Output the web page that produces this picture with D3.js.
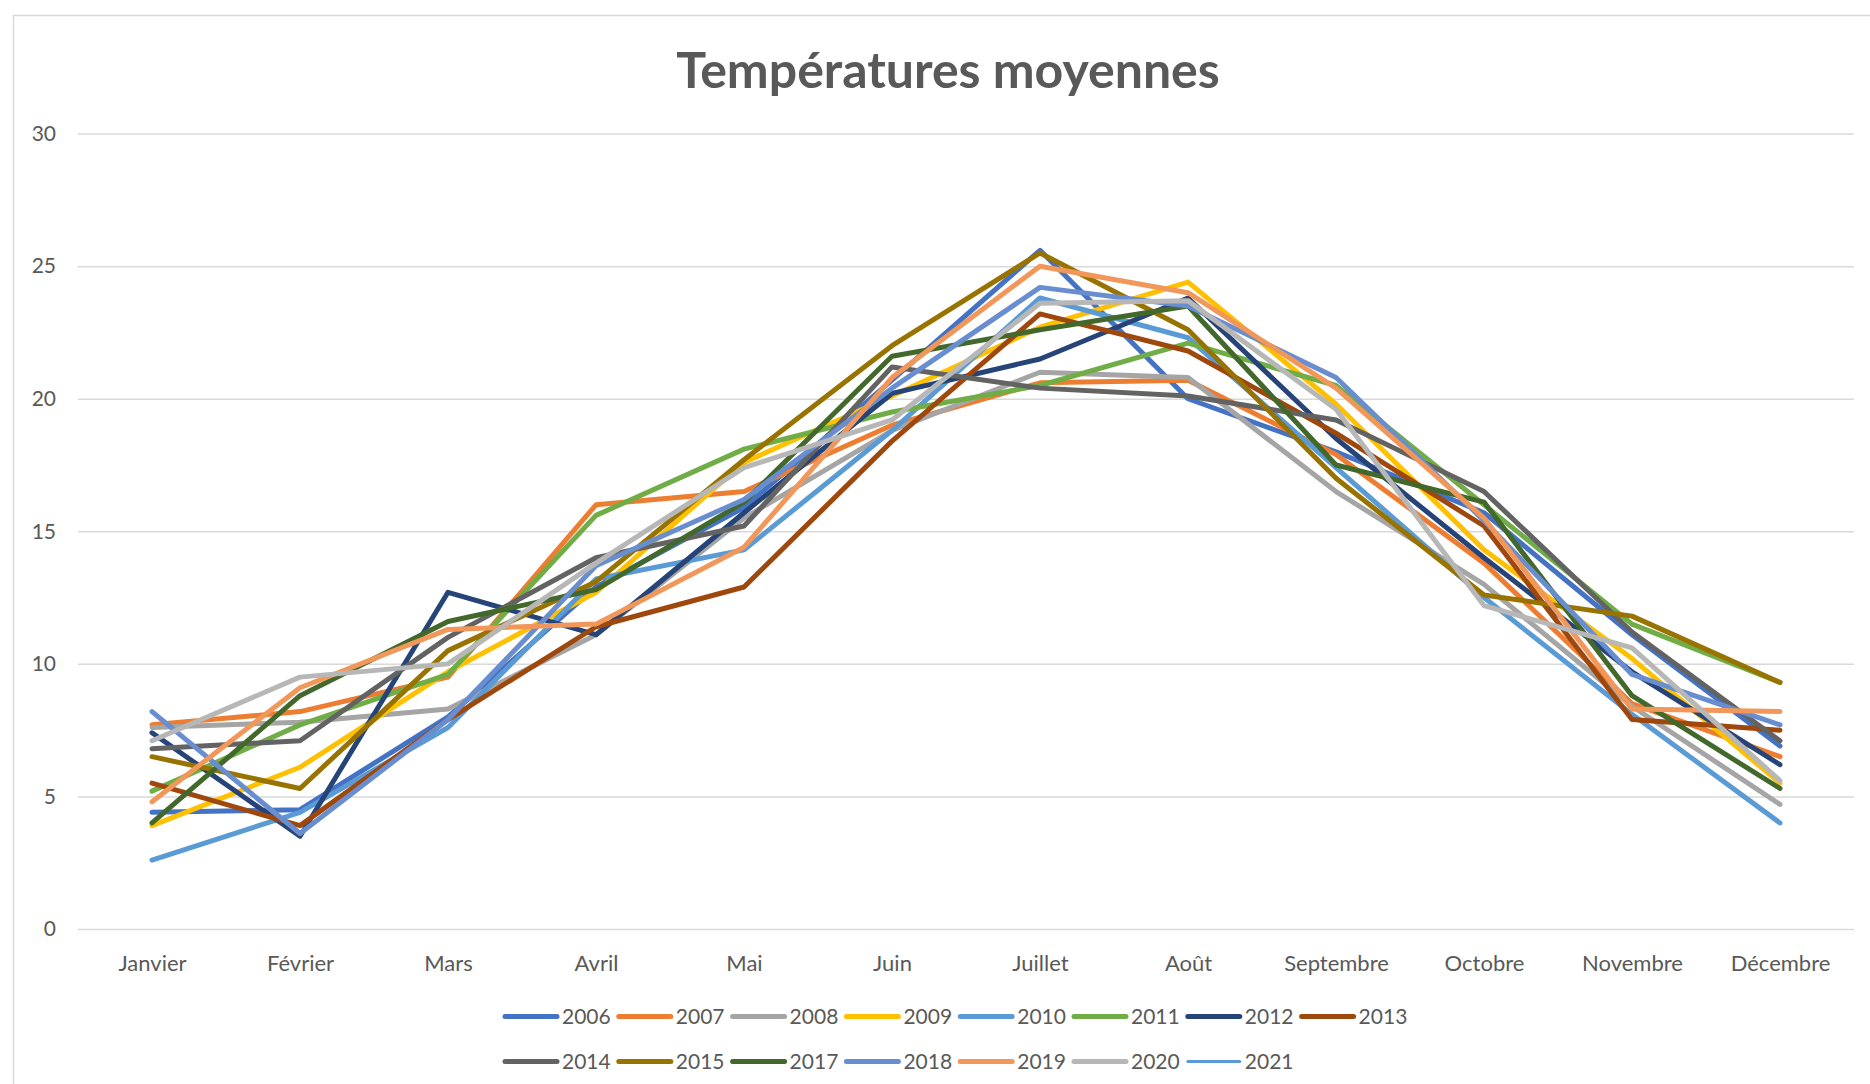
<!DOCTYPE html>
<html>
<head>
<meta charset="utf-8">
<title>Températures moyennes</title>
<script src="https://d3js.org/d3.v7.min.js"></script>
<style>
  body { margin: 0; background: #fff; }
  text { font-family: Lato, "Open Sans", sans-serif; fill: #595959; }
</style>
</head>
<body>
<div id="chart"></div>
<script>
// months and yearly series (°C)
var months = ["Janvier", "Février", "Mars", "Avril", "Mai", "Juin", "Juillet", "Août", "Septembre", "Octobre", "Novembre", "Décembre"];
var yTicks = [0, 5, 10, 15, 20, 25, 30];

var t2006 = [4.4, 4.5, 8.0, 12.9, 15.9, 20.7, 25.6, 20.0, 18.0, 15.7, 11.1, 6.9];
var t2007 = [7.7, 8.2, 9.5, 16.0, 16.5, 19.0, 20.6, 20.7, 17.9, 13.8, 8.5, 6.5];
var t2008 = [7.6, 7.8, 8.3, 11.1, 15.5, 18.8, 21.0, 20.8, 16.5, 13.0, 8.4, 4.7];
var t2009 = [3.9, 6.1, 9.7, 12.7, 17.6, 20.1, 22.7, 24.4, 19.8, 14.3, 10.2, 5.5];
var t2010 = [2.6, 4.4, 7.6, 13.2, 14.3, 18.8, 23.8, 22.3, 17.4, 12.5, 8.1, 4.0];
var t2011 = [5.2, 7.7, 9.6, 15.6, 18.1, 19.5, 20.5, 22.1, 20.5, 16.0, 11.5, 9.3];
var t2012 = [7.4, 3.5, 12.7, 11.1, 15.7, 20.2, 21.5, 23.8, 18.5, 14.0, 9.7, 6.2];
var t2013 = [5.5, 3.9, 7.9, 11.4, 12.9, 18.4, 23.2, 21.8, 18.7, 15.2, 7.9, 7.5];
var t2014 = [6.8, 7.1, 11.0, 14.0, 15.2, 21.2, 20.4, 20.1, 19.2, 16.5, 11.2, 7.1];
var t2015 = [6.5, 5.3, 10.5, 13.1, 17.7, 22.0, 25.5, 22.6, 17.0, 12.6, 11.8, 9.3];
var t2017 = [4.0, 8.8, 11.6, 12.8, 16.1, 21.6, 22.6, 23.5, 17.5, 16.1, 8.8, 5.3];
var t2018 = [8.2, 3.6, 7.9, 13.7, 16.2, 20.4, 24.2, 23.5, 20.8, 15.4, 9.6, 7.7];
var t2019 = [4.8, 9.1, 11.3, 11.5, 14.4, 20.8, 25.0, 24.0, 20.4, 15.5, 8.3, 8.2];
var t2020 = [7.1, 9.5, 10.0, 13.8, 17.4, 19.2, 23.6, 23.7, 19.6, 12.2, 10.6, 5.6];
var t2021 = [];

var years = ["2006", "2007", "2008", "2009", "2010", "2011", "2012", "2013", "2014", "2015", "2017", "2018", "2019", "2020", "2021"];
var colors = ["#4472C4", "#ED7D31", "#A5A5A5", "#FFC000", "#5B9BD5", "#70AD47", "#264478", "#9E480E", "#636363", "#997300", "#43682B", "#698ED0", "#F1975A", "#B7B7B7", "#5B9BD5"];
var widths = [5, 5, 5, 5, 5, 5, 5, 5, 5, 5, 5, 5, 5, 5, 3];
var values = [t2006, t2007, t2008, t2009, t2010, t2011, t2012, t2013, t2014, t2015, t2017, t2018, t2019, t2020, t2021];

var series = years.map(function(y, i) {
  return { name: y, color: colors[i], width: widths[i], values: values[i] };
});

var W = 1870, H = 1084;
var plot = { left: 78, right: 1854, top: 133.6, bottom: 929 };

var svg = d3.select("#chart").append("svg")
  .attr("width", W)
  .attr("height", H);

// chart frame
svg.append("rect")
  .attr("x", 13.5).attr("y", 15.5)
  .attr("width", W).attr("height", H)
  .attr("fill", "none")
  .attr("stroke", "#d9d9d9")
  .attr("stroke-width", 1.5);

svg.append("text")
  .attr("x", 948).attr("y", 88)
  .attr("text-anchor", "middle")
  .attr("font-size", "50px")
  .attr("font-weight", "bold")
  .text("Températures moyennes");

var x = d3.scalePoint()
  .domain(months)
  .range([plot.left, plot.right])
  .padding(0.5);

var y = d3.scaleLinear()
  .domain([0, 30])
  .range([plot.bottom, plot.top]);

// gridlines + y labels
var yAxis = svg.append("g")
  .attr("transform", "translate(" + plot.left + ",0)")
  .call(d3.axisLeft(y).tickValues(yTicks).tickSize(-(plot.right - plot.left)).tickPadding(22));
yAxis.select(".domain").remove();
yAxis.selectAll(".tick line").attr("stroke", "#d9d9d9").attr("stroke-width", 1.5);
yAxis.selectAll(".tick text")
  .attr("font-size", "21px")
  .attr("font-family", "Lato, 'Open Sans', sans-serif")
  .attr("fill", "#595959");

// x labels
var xAxis = svg.append("g")
  .attr("transform", "translate(0," + plot.bottom + ")")
  .call(d3.axisBottom(x).tickSize(0).tickPadding(26));
xAxis.select(".domain").remove();
xAxis.selectAll(".tick text")
  .attr("font-size", "22px")
  .attr("font-family", "Lato, 'Open Sans', sans-serif")
  .attr("fill", "#595959");

var line = d3.line()
  .defined(function(d) { return d != null; })
  .x(function(d, i) { return x(months[i]); })
  .y(function(d) { return y(d); });

svg.append("g").selectAll("path")
  .data(series)
  .enter()
  .append("path")
    .attr("d", function(d) { return line(d.values); })
    .attr("fill", "none")
    .attr("stroke", function(d) { return d.color; })
    .attr("stroke-width", function(d) { return d.width; })
    .attr("stroke-linejoin", "round")
    .attr("stroke-linecap", "round");

// legend: two rows
var legX0 = 503, legStep = 113.8, rowY = [1016.5, 1061.5], perRow = 8;
var leg = svg.append("g").selectAll("g")
  .data(series)
  .enter()
  .append("g")
    .attr("transform", function(d, i) {
      return "translate(" + (legX0 + (i % perRow) * legStep) + "," + rowY[Math.floor(i / perRow)] + ")";
    });
leg.append("line")
  .attr("x1", 2).attr("x2", 54)
  .attr("stroke", function(d) { return d.color; })
  .attr("stroke-width", function(d) { return d.width; })
  .attr("stroke-linecap", "round");
leg.append("text")
  .attr("x", 59).attr("y", 7.5)
  .attr("font-size", "21px")
  .text(function(d) { return d.name; });
</script>
</body>
</html>
